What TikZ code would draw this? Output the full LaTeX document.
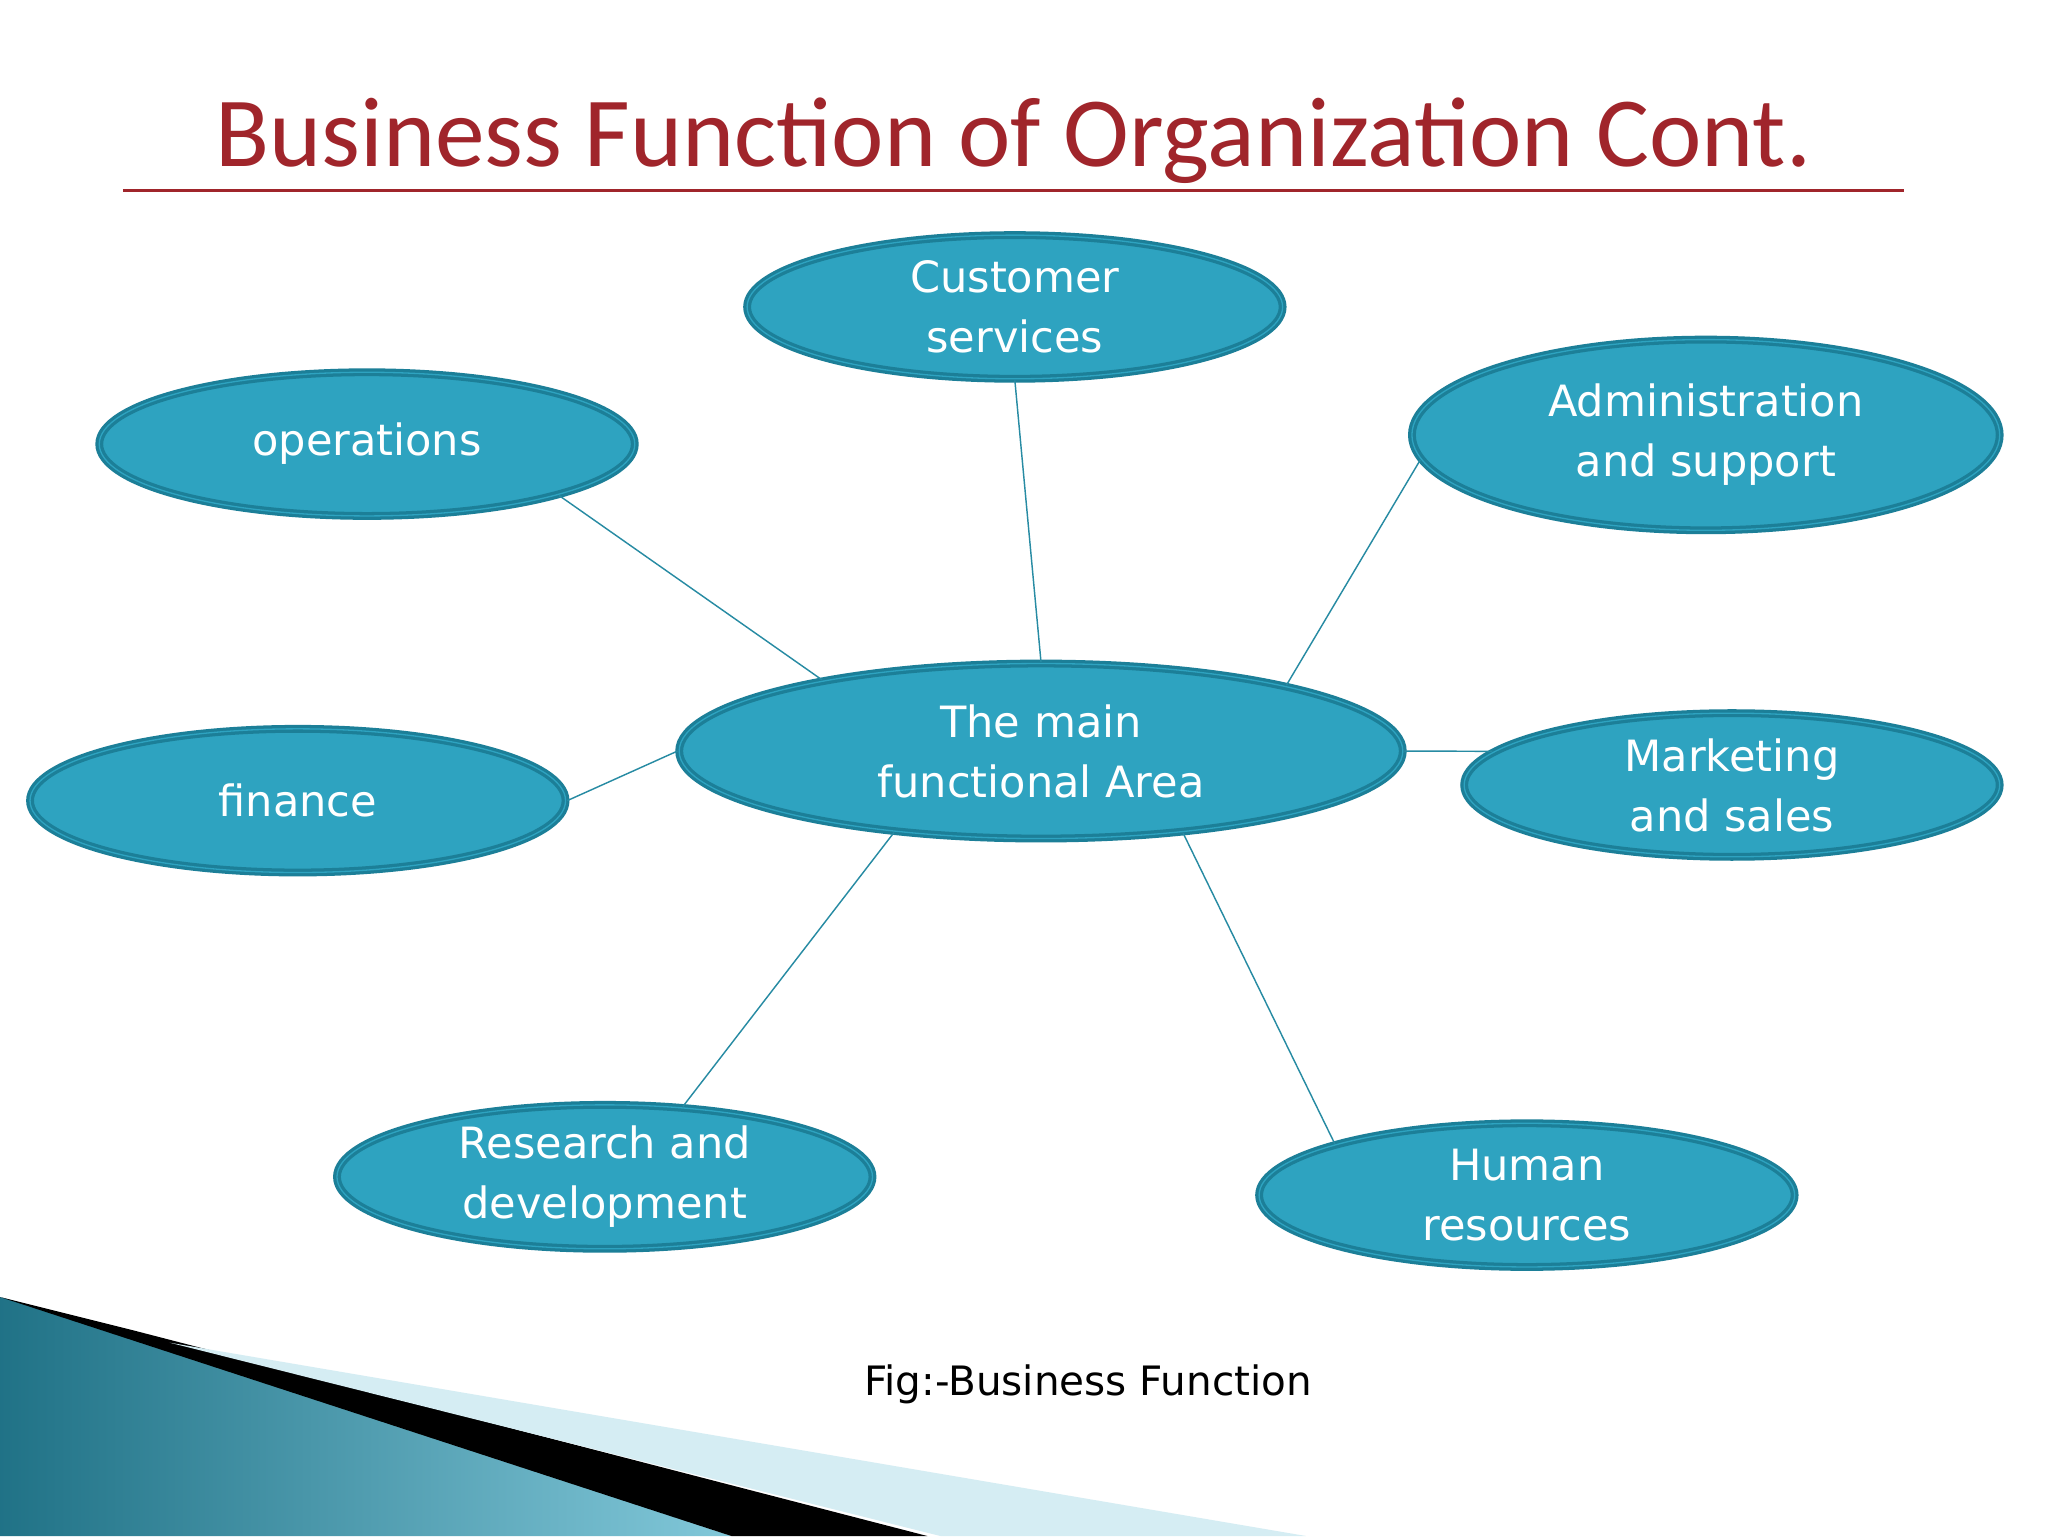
\documentclass[tikz,border=0pt]{standalone}
\usepackage{fontspec}
\setmainfont{DejaVu Sans}
\newfontfamily\titlefont{Carlito}
\usetikzlibrary{shapes.geometric}
\definecolor{nodefill}{HTML}{2EA3C0}
\definecolor{nodeedge}{HTML}{1C7F98}
\definecolor{titlered}{HTML}{A0252B}
\tikzset{
  bub/.style={ellipse, fill=nodefill, draw=nodeedge, line width=2.5pt, double=nodefill, double distance=1pt,
    text=white, align=center, font=\fontsize{33}{46}\selectfont, inner sep=0pt},
  conn/.style={draw=nodefill!85!black, line width=1.1pt}
}
\begin{document}
\begin{tikzpicture}[x=1pt,y=-1pt]
\useasboundingbox (0,0) rectangle (1568,1176);
\fill[white] (0,0) rectangle (1568,1176);
% bottom decoration
\shade[left color=nodefill!70!black, right color=nodefill!60!white] (0,993) -- (95,1020) -- (560,1176) -- (0,1176) -- cycle;
\fill[black] (0,993) -- (100,1018) -- (710,1176) -- (560,1176) -- cycle;
\fill[nodefill!20!white] (130,1028) -- (1000,1176) -- (720,1176) -- cycle;
% title
\node[font=\titlefont\fontsize{76}{80}\selectfont, text=titlered] (title) at (776,108) {Business Function of Organization Cont.};
\draw[titlered, line width=2pt] (94,146) -- (1458,146);
% nodes
\node[bub, minimum width=410, minimum height=110] (cs) at (777,235) {Customer\\services};
\node[bub, minimum width=410, minimum height=110] (ops) at (281,340) {operations};
\node[bub, minimum width=450, minimum height=146] (adm) at (1306,333) {Administration\\and support};
\node[bub, minimum width=554, minimum height=134] (main) at (797,575) {The main\\functional Area};
\node[bub, minimum width=410, minimum height=110] (fin) at (228,613) {finance};
\node[bub, minimum width=410, minimum height=110] (mkt) at (1326,601) {Marketing\\and sales};
\node[bub, minimum width=410, minimum height=110] (rd) at (463,901) {Research and\\development};
\node[bub, minimum width=410, minimum height=110] (hr) at (1169,915) {Human\\resources};
% connectors
\draw[conn] (main.162) -- (ops.345);
\draw[conn] (main.90) -- (cs.270);
\draw[conn] (main.15) -- (adm.185);
\draw[conn] (main.180) -- (fin.0);
\draw[conn] (main.0) -- (mkt.172);
\draw[conn] (main.209) -- (rd.42);
\draw[conn] (main.330) -- (hr.165);
\node[font=\fontsize{31}{36}\selectfont] (cap) at (833,1060) {Fig:-Business Function};
\end{tikzpicture}
\end{document}
